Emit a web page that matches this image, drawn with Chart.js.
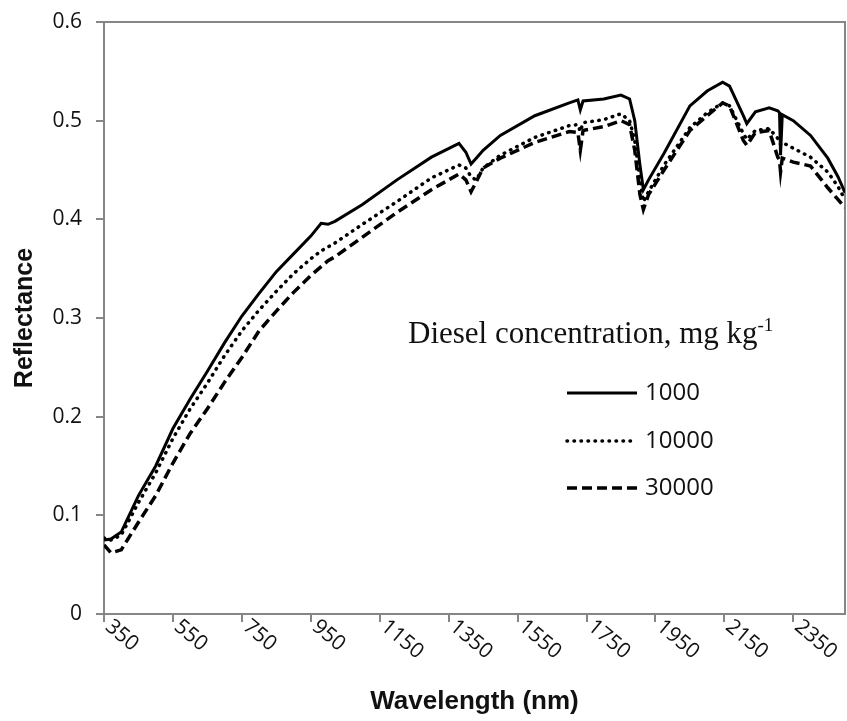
<!DOCTYPE html>
<html>
<head>
<meta charset="utf-8">
<script src="https://cdn.jsdelivr.net/npm/chart.js@4.4.0/dist/chart.umd.min.js"></script>
<style>
  html, body { margin: 0; padding: 0; background: #fff; }
  #wrap { width: 847px; height: 721px; }
</style>
</head>
<body>
<div id="wrap"><canvas id="chart" width="847" height="721"></canvas></div>
<script>
// wavelength points (nm) shared by all three spectra
const wavelengths = [350, 370, 400, 450, 500, 550, 600, 650, 700, 750, 800, 850, 900, 950, 980, 1000, 1020,
  1100, 1200, 1300, 1380, 1400, 1415, 1430, 1450, 1500, 1600, 1700, 1725, 1732, 1740, 1800, 1850, 1875,
  1890, 1905, 1915, 1930, 1975, 2050, 2100, 2145, 2165, 2205, 2215, 2240, 2280, 2305, 2310, 2313, 2318,
  2350, 2400, 2450, 2480, 2500];

const conc1000 = [0.075, 0.076, 0.083, 0.120, 0.150, 0.188, 0.218, 0.246, 0.275, 0.302, 0.325, 0.347, 0.365, 0.383, 0.396, 0.395, 0.398,
  0.415, 0.440, 0.463, 0.477, 0.468, 0.456, 0.462, 0.470, 0.485, 0.505, 0.518, 0.521, 0.511, 0.520, 0.522, 0.526, 0.522,
  0.500, 0.455, 0.430, 0.440, 0.467, 0.515, 0.530, 0.539, 0.535, 0.505, 0.497, 0.509, 0.513, 0.510, 0.508, 0.465, 0.506,
  0.500, 0.485, 0.462, 0.443, 0.427];

const conc10000 = [0.077, 0.075, 0.080, 0.113, 0.143, 0.178, 0.208, 0.234, 0.262, 0.287, 0.308, 0.327, 0.345, 0.360, 0.368, 0.372, 0.376,
  0.395, 0.418, 0.442, 0.455, 0.452, 0.443, 0.440, 0.452, 0.465, 0.483, 0.495, 0.496, 0.489, 0.498, 0.501, 0.507, 0.500,
  0.480, 0.440, 0.418, 0.428, 0.455, 0.493, 0.508, 0.518, 0.515, 0.487, 0.481, 0.490, 0.492, 0.482, 0.480, 0.476, 0.478,
  0.472, 0.463, 0.448, 0.433, 0.420];

const conc30000 = [0.070, 0.062, 0.065, 0.093, 0.120, 0.153, 0.183, 0.208, 0.235, 0.260, 0.287, 0.307, 0.326, 0.343, 0.352, 0.358, 0.362,
  0.382, 0.407, 0.430, 0.446, 0.440, 0.428, 0.438, 0.452, 0.462, 0.478, 0.489, 0.488, 0.470, 0.490, 0.494, 0.500, 0.496,
  0.470, 0.425, 0.410, 0.425, 0.450, 0.490, 0.505, 0.518, 0.515, 0.480, 0.475, 0.488, 0.490, 0.463, 0.460, 0.448, 0.462,
  0.458, 0.454, 0.432, 0.420, 0.412];

const seriesLabels = ['1000', '10000', '30000'];
const xTicks = [350, 550, 750, 950, 1150, 1350, 1550, 1750, 1950, 2150, 2350];
const yTicks = [0, 0.1, 0.2, 0.3, 0.4, 0.5, 0.6];

const AXIS_GREY = '#868686';

function toPoints(vals) {
  return wavelengths.map((w, i) => ({ x: w, y: vals[i] }));
}

// top + right border of the plot area
const frameBorder = {
  id: 'frameBorder',
  beforeDatasetsDraw(chart) {
    const { ctx, chartArea: a } = chart;
    ctx.save();
    ctx.strokeStyle = AXIS_GREY;
    ctx.lineWidth = 2;
    ctx.beginPath();
    ctx.moveTo(a.left, a.top);
    ctx.lineTo(a.right, a.top);
    ctx.lineTo(a.right, a.bottom);
    ctx.stroke();
    ctx.restore();
  }
};

// x tick labels slanted downwards to the right, like the original
const slantedLabels = {
  id: 'slantedLabels',
  afterDraw(chart) {
    const { ctx } = chart;
    const xs = chart.scales.x;
    ctx.save();
    ctx.fillStyle = '#111';
    ctx.font = '21px "Open Sans"';
    ctx.textAlign = 'left';
    ctx.textBaseline = 'middle';
    xs.ticks.forEach(t => {
      const px = xs.getPixelForValue(t.value);
      ctx.save();
      ctx.translate(px + 4, xs.top + 10);
      ctx.rotate(40 * Math.PI / 180);
      ctx.fillText(String(t.value), 0, 0);
      ctx.restore();
    });
    ctx.restore();
  }
};

// legend inside the plot with a serif title
const insideLegend = {
  id: 'insideLegend',
  afterDraw(chart) {
    const { ctx } = chart;
    ctx.save();
    ctx.fillStyle = '#111';
    ctx.textBaseline = 'alphabetic';
    ctx.textAlign = 'left';
    ctx.font = '31px "Liberation Serif"';
    const title = 'Diesel concentration, mg kg';
    const tx = 408, ty = 343;
    ctx.fillText(title, tx, ty);
    const w = ctx.measureText(title).width;
    ctx.font = '19px "Liberation Serif"';
    ctx.fillText('-1', tx + w, ty - 12);

    const rowsY = [393, 441, 488];
    chart.data.datasets.forEach((ds, i) => {
      const y = rowsY[i];
      ctx.save();
      ctx.strokeStyle = '#000';
      ctx.lineWidth = ds.borderWidth;
      ctx.lineCap = ds.borderCapStyle || 'butt';
      ctx.setLineDash(ds.borderDash || []);
      ctx.beginPath();
      ctx.moveTo(567, y);
      ctx.lineTo(637, y);
      ctx.stroke();
      ctx.restore();
      ctx.font = '24px "Open Sans"';
      ctx.textBaseline = 'middle';
      ctx.fillText(ds.label, 645, y);
    });
    ctx.restore();
  }
};

new Chart(document.getElementById('chart'), {
  type: 'line',
  data: {
    datasets: [
      { label: seriesLabels[0], data: toPoints(conc1000), borderColor: '#000', borderWidth: 3, pointRadius: 0, tension: 0 },
      { label: seriesLabels[1], data: toPoints(conc10000), borderColor: '#000', borderWidth: 3.5, borderDash: [0.5, 6.5], borderCapStyle: 'round', pointRadius: 0, tension: 0 },
      { label: seriesLabels[2], data: toPoints(conc30000), borderColor: '#000', borderWidth: 3.5, borderDash: [10, 5], pointRadius: 0, tension: 0 }
    ]
  },
  options: {
    responsive: false,
    animation: false,
    devicePixelRatio: 1,
    layout: { padding: { top: 22, right: 2, left: 0, bottom: 0 } },
    plugins: { legend: { display: false }, tooltip: { enabled: false } },
    scales: {
      x: {
        type: 'linear',
        min: 350,
        max: 2500,
        afterBuildTicks: s => { s.ticks = xTicks.map(v => ({ value: v })); },
        afterFit: s => { s.height = 107; s.paddingLeft = 0; s.paddingRight = 0; },
        ticks: { display: false },
        grid: { drawOnChartArea: false, drawTicks: true, tickLength: 8, color: AXIS_GREY, lineWidth: 2 },
        border: { color: AXIS_GREY, width: 2 },
        title: {
          display: true,
          text: 'Wavelength (nm)',
          color: '#111',
          font: { family: '"Liberation Sans"', size: 26, weight: 'bold' },
          padding: { top: 0, bottom: 4 }
        }
      },
      y: {
        min: 0,
        max: 0.6,
        afterBuildTicks: s => { s.ticks = yTicks.map(v => ({ value: v })); },
        afterFit: s => { s.width = 104; s.paddingTop = 0; s.paddingBottom = 0; },
        ticks: {
          color: '#111',
          font: { family: '"Open Sans"', size: 21 },
          padding: 14,
          callback: v => (v === 0 ? '0' : v.toFixed(1))
        },
        grid: { drawOnChartArea: false, drawTicks: true, tickLength: 8, color: AXIS_GREY, lineWidth: 2 },
        border: { color: AXIS_GREY, width: 2 },
        title: {
          display: true,
          text: 'Reflectance',
          color: '#111',
          font: { family: '"Liberation Sans"', size: 25, weight: 'bold' },
          padding: { top: 10, bottom: 0 }
        }
      }
    }
  },
  plugins: [frameBorder, slantedLabels, insideLegend]
});
</script>
</body>
</html>
